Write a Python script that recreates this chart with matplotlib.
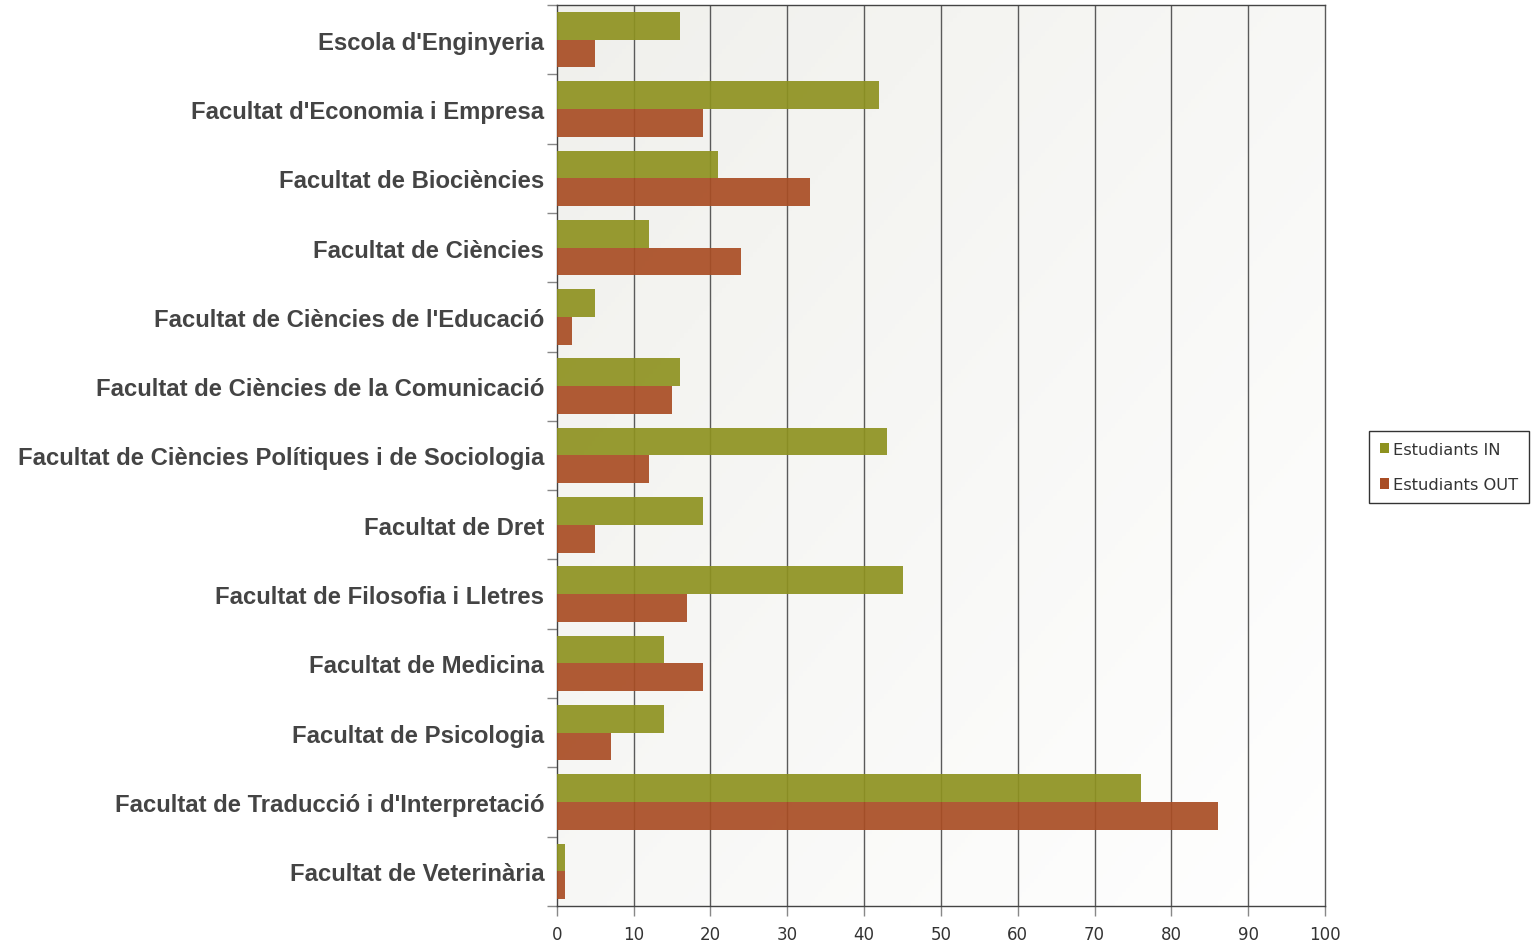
import numpy as np
import matplotlib
matplotlib.use('Agg')
import matplotlib.pyplot as plt
from matplotlib.colors import LinearSegmentedColormap
from matplotlib.patches import Patch

faculties = [
    "Escola d'Enginyeria",
    "Facultat d'Economia i Empresa",
    "Facultat de Biociències",
    "Facultat de Ciències",
    "Facultat de Ciències de l'Educació",
    "Facultat de Ciències de la Comunicació",
    "Facultat de Ciències Polítiques i de Sociologia",
    "Facultat de Dret",
    "Facultat de Filosofia i Lletres",
    "Facultat de Medicina",
    "Facultat de Psicologia",
    "Facultat de Traducció i d'Interpretació",
    "Facultat de Veterinària",
]
students_in = [16, 42, 21, 12, 5, 16, 43, 19, 45, 14, 14, 76, 1]
students_out = [5, 19, 33, 24, 2, 15, 12, 5, 17, 19, 7, 86, 1]

colour_in = '#8E9220'
colour_out = '#A94D24'

fig = plt.figure(figsize=(15.34, 9.45), dpi=100)
fig.patch.set_facecolor('white')
ax = fig.add_axes([0.363, 0.0402, 0.5008, 0.9535])

# Light gradient background, grey top-left to white bottom-right
cmap = LinearSegmentedColormap.from_list('bg', ['#F0F0EC', '#FFFFFF'])
gx, gy = np.meshgrid(np.linspace(0, 1, 200), np.linspace(0, 1, 200))
ax.imshow(gx * 0.5 + gy * 0.5, cmap=cmap, extent=[0, 1, 0, 1],
          transform=ax.transAxes, aspect='auto', zorder=0)

n = len(faculties)
y = np.arange(n)
h = 0.4
ax.barh(y - h / 2, students_in, height=h, color=colour_in, alpha=0.92,
        edgecolor='none', zorder=3)
ax.barh(y + h / 2, students_out, height=h, color=colour_out, alpha=0.92,
        edgecolor='none', zorder=3)

ax.set_xlim(0, 100)
ax.set_ylim(n - 0.5, -0.5)

for xv in range(10, 100, 10):
    ax.axvline(xv, color='#5A5A5A', lw=1.0, zorder=2)

ax.set_xticks(range(0, 101, 10))
ax.tick_params(axis='x', direction='out', length=7, width=1, color='#888888',
               labelsize=12, labelcolor='#333333', pad=7)
for lbl in ax.get_xticklabels():
    lbl.set_fontfamily('DejaVu Sans')

ax.set_yticks(y)
ax.set_yticklabels(faculties, fontfamily='Liberation Sans', fontweight='bold',
                   fontsize=17.2, color='#444444')
ax.tick_params(axis='y', which='major', length=0, pad=9)
ax.set_yticks(np.arange(-0.5, n, 1), minor=True)
ax.tick_params(axis='y', which='minor', direction='out', length=7, width=1,
               color='#888888')

for side in ['left', 'bottom', 'top', 'right']:
    ax.spines[side].set_color('#444444')
    ax.spines[side].set_linewidth(1.0)
ax.spines['right'].set_color('#5A5A5A')

handles = [Patch(facecolor=colour_in, edgecolor='none', label='Estudiants IN'),
           Patch(facecolor=colour_out, edgecolor='none', label='Estudiants OUT')]
leg = fig.legend(handles=handles, loc='center left',
                 bbox_to_anchor=(1369 / 1534, 1 - 468 / 945),
                 prop={'family': 'DejaVu Sans', 'size': 11.7},
                 handlelength=0.6, handleheight=0.6, handletextpad=0.25,
                 labelspacing=1.25, borderpad=0.65, borderaxespad=0,
                 fancybox=False, edgecolor='#333333', framealpha=1)
for t in leg.get_texts():
    t.set_color('#333333')
leg.get_frame().set_linewidth(1.0)

fig.savefig('out.png', dpi=100)
